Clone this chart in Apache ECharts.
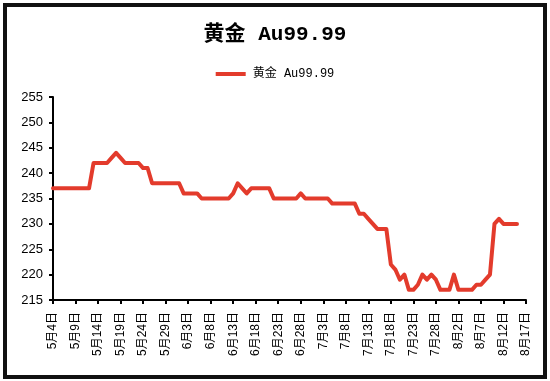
<!DOCTYPE html>
<html>
<head>
<meta charset="utf-8">
<script src="https://cdn.jsdelivr.net/npm/echarts@6/dist/echarts.min.js"></script>
<style>html,body{margin:0;padding:0;background:#fff}#c{width:550px;height:381px}</style>
</head>
<body>
<div id="c"></div>
<script>
var titleText = '黄金 Au99.99';
var seriesName = '黄金 Au99.99';
var dates = ['5月4日','5月5日','5月6日','5月7日','5月8日','5月9日','5月10日','5月11日','5月12日','5月13日','5月14日','5月15日','5月16日','5月17日','5月18日','5月19日','5月20日','5月21日','5月22日','5月23日','5月24日','5月25日','5月26日','5月27日','5月28日','5月29日','5月30日','5月31日',
'6月1日','6月2日','6月3日','6月4日','6月5日','6月6日','6月7日','6月8日','6月9日','6月10日','6月11日','6月12日','6月13日','6月14日','6月15日','6月16日','6月17日','6月18日','6月19日','6月20日','6月21日','6月22日','6月23日','6月24日','6月25日','6月26日','6月27日','6月28日','6月29日','6月30日',
'7月1日','7月2日','7月3日','7月4日','7月5日','7月6日','7月7日','7月8日','7月9日','7月10日','7月11日','7月12日','7月13日','7月14日','7月15日','7月16日','7月17日','7月18日','7月19日','7月20日','7月21日','7月22日','7月23日','7月24日','7月25日','7月26日','7月27日','7月28日','7月29日','7月30日','7月31日',
'8月1日','8月2日','8月3日','8月4日','8月5日','8月6日','8月7日','8月8日','8月9日','8月10日','8月11日','8月12日','8月13日','8月14日','8月15日','8月16日','8月17日'];
var prices = [237,237,237,237,237,237,237,237,237,242,242,242,242,243,244,243,242,242,242,242,241,241,238,238,238,238,238,238,238,
236,236,236,236,235,235,235,235,235,235,235,236,238,237,236,237,237,237,237,237,235,235,235,235,235,235,236,235,235,235,235,235,235,
234,234,234,234,234,234,232,232,231,230,229,229,229,222,221,219,220,217,217,218,220,219,220,219,217,217,217,220,217,217,217,217,
218,218,219,220,230,231,230,230,230,230,null,null];
var yMin = 215, yMax = 255, yStep = 5;

var chart = echarts.init(document.getElementById('c'), null, {renderer: 'canvas'});
chart.setOption({
  animation: false,
  backgroundColor: '#fff',
  title: {
    text: titleText, left: 'center', top: 19,
    textStyle: {fontFamily: 'Liberation Mono, Noto Sans CJK SC', fontSize: 21, fontWeight: 'bold', color: '#000'}
  },
  legend: {
    data: [seriesName], top: 63, left: 'center',
    icon: 'rect', itemWidth: 30, itemHeight: 4, itemGap: 10,
    textStyle: {fontFamily: 'Liberation Mono, Noto Sans CJK SC', fontSize: 12, color: '#000', padding: [0,0,0,2]}
  },
  graphic: [{
    type: 'rect', shape: {x: 5, y: 5, width: 540, height: 372},
    style: {fill: 'none', stroke: '#111', lineWidth: 4}, z: 100
  }],
  grid: {left: 53, right: 24, top: 97, bottom: 81, containLabel: false},
  xAxis: {
    type: 'category', data: dates, boundaryGap: false,
    axisLine: {show: true, lineStyle: {color: '#000', width: 2}},
    axisTick: {show: true, interval: 4, length: 4, lineStyle: {color: '#000', width: 2}},
    axisLabel: {interval: 4, rotate: 90, margin: 12, color: '#000', fontSize: 12,
      fontFamily: 'Liberation Sans, Noto Sans CJK SC'},
    splitLine: {show: false}
  },
  yAxis: {
    type: 'value', min: yMin, max: yMax, interval: yStep,
    axisLine: {show: true, lineStyle: {color: '#000', width: 2}},
    axisTick: {show: true, length: 4, lineStyle: {color: '#000', width: 2}},
    axisLabel: {color: '#000', fontSize: 13, margin: 10, fontFamily: 'Liberation Sans'},
    splitLine: {show: false}
  },
  series: [{
    name: seriesName, type: 'line', data: prices,
    showSymbol: false, symbol: 'none',
    itemStyle: {color: '#e33b2c'},
    lineStyle: {color: '#e33b2c', width: 4, join: 'round', cap: 'round'}
  }]
});
</script>
</body>
</html>
